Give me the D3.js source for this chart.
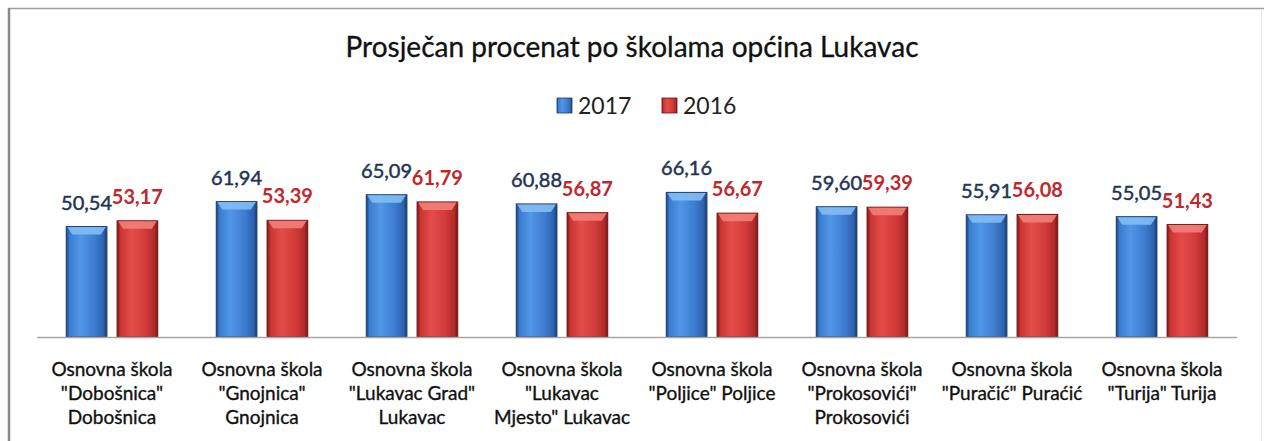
<!DOCTYPE html>
<html>
<head>
<meta charset="utf-8">
<script src="https://cdn.jsdelivr.net/npm/d3@7"></script>
<style>
  body { margin: 0; background: #fff; }
  svg { display: block; font-family: Lato, "Open Sans", sans-serif; }
</style>
</head>
<body>
<div id="chart"></div>
<script>
// data
const schools = [
  ['Osnovna škola', '"Dobošnica"', 'Dobošnica'],
  ['Osnovna škola', '"Gnojnica"', 'Gnojnica'],
  ['Osnovna škola', '"Lukavac Grad"', 'Lukavac'],
  ['Osnovna škola', '"Lukavac', 'Mjesto" Lukavac'],
  ['Osnovna škola', '"Poljice" Poljice'],
  ['Osnovna škola', '"Prokosovići"', 'Prokosovići'],
  ['Osnovna škola', '"Puračić" Puraćić'],
  ['Osnovna škola', '"Turija" Turija']
]
const years = ['2017', '2016']
const values2017 = [50.54, 61.94, 65.09, 60.88, 66.16, 59.60, 55.91, 55.05]
const values2016 = [53.17, 53.39, 61.79, 56.87, 56.67, 59.39, 56.08, 51.43]

const W = 1264, H = 441
const base = 337

const svg = d3.select('#chart').append('svg')
  .attr('width', W)
  .attr('height', H)

// gradients for the bevelled bars
const defs = svg.append('defs')
function bevel(id, stops) {
  let g = defs.append('linearGradient').attr('id', id)
    .attr('x1', 0).attr('x2', 1).attr('y1', 0).attr('y2', 0)
  stops.forEach(s => g.append('stop').attr('offset', s[0]).attr('stop-color', s[1]))
}
bevel('g2017', [[0, '#1b3f78'], [0.08, '#3a7dd0'], [0.35, '#5296e6'], [0.7, '#3d7ccf'], [0.92, '#2d61ad'], [1, '#183a70']])
bevel('g2016', [[0, '#7a1616'], [0.08, '#c93533'], [0.35, '#e34c49'], [0.7, '#d23b39'], [0.92, '#b02a29'], [1, '#741515']])
const topColor = { '2017': '#82bcf4', '2016': '#f28078' }
const edgeColor = { '2017': '#1c3d6e', '2016': '#6e1616' }
const labelColor = { '2017': '#1f3556', '2016': '#c0282e' }

// frame
svg.append('line').attr('x1', 8).attr('x2', W).attr('y1', 8.5).attr('y2', 8.5)
  .attr('stroke', '#a0a0a0').attr('stroke-width', 1.5)
svg.append('line').attr('x1', 9).attr('x2', 9).attr('y1', 8).attr('y2', H)
  .attr('stroke', '#8a8a8a').attr('stroke-width', 2.5)
svg.append('line').attr('x1', 1261.5).attr('x2', 1261.5).attr('y1', 10).attr('y2', H)
  .attr('stroke', '#e8e8e8').attr('stroke-width', 1)

// title
svg.append('text')
  .attr('x', 632).attr('y', 57)
  .attr('text-anchor', 'middle')
  .attr('font-size', 28)
  .attr('fill', '#111')
  .attr('stroke', '#111').attr('stroke-width', 0.3)
  .text('Prosječan procenat po školama općina Lukavac')

// legend
const legend = svg.append('g').attr('transform', 'translate(557,98)')
years.forEach((yr, i) => {
  let g = legend.append('g').attr('transform', `translate(${i * 105},0)`)
  g.append('rect').attr('width', 15).attr('height', 15)
    .attr('fill', `url(#g${yr})`).attr('stroke', edgeColor[yr]).attr('stroke-width', 0.8)
  g.append('text').attr('x', 21).attr('y', 16)
    .attr('font-size', 23).attr('fill', '#222').text(yr)
})

// scales
const x0 = d3.scaleBand().domain(d3.range(schools.length)).range([37, 1237])
const x1 = d3.scaleBand().domain(years).range([0, 91.5]).paddingInner(0.2)
const y = d3.scaleLinear().domain([0, 70]).range([base, 184])

const rows = schools.map((s, i) => ({ i, vals: [
  { yr: '2017', v: values2017[i] },
  { yr: '2016', v: values2016[i] }
]}))

const groups = svg.selectAll('.grp').data(rows).enter().append('g')
  .attr('class', 'grp')
  .attr('transform', d => `translate(${x0(d.i) + (x0.bandwidth() - 91.5) / 2},0)`)

const bars = groups.selectAll('.bar').data(d => d.vals).enter().append('g')
  .attr('class', 'bar')

bars.append('rect')
  .attr('x', d => x1(d.yr))
  .attr('y', d => y(d.v))
  .attr('width', x1.bandwidth())
  .attr('height', d => base - y(d.v))
  .attr('fill', d => `url(#g${d.yr})`)
  .attr('stroke', d => edgeColor[d.yr])
  .attr('stroke-width', 1)

// top bevel
bars.append('path')
  .attr('d', d => {
    let l = x1(d.yr), r = l + x1.bandwidth(), t = y(d.v)
    return `M${l + 1},${t + 0.5} L${r - 1},${t + 0.5} L${r - 6},${t + 8} L${l + 6},${t + 8} Z`
  })
  .attr('fill', d => topColor[d.yr])
  .attr('opacity', 0.9)

// value labels
bars.append('text')
  .attr('x', d => x1(d.yr) + x1.bandwidth() / 2)
  .attr('y', d => y(d.v) - 17)
  .attr('text-anchor', 'middle')
  .attr('font-size', 20)
  .attr('font-weight', d => d.yr == '2016' ? 'bold' : 'normal')
  .attr('fill', d => labelColor[d.yr])
  .attr('stroke', d => d.yr == '2017' ? labelColor[d.yr] : 'none')
  .attr('stroke-width', 0.5)
  .text(d => d3.format('.2f')(d.v).replace('.', ','))

// axis line
svg.append('line')
  .attr('x1', x0.range()[0]).attr('x2', x0.range()[1])
  .attr('y1', base + 0.5).attr('y2', base + 0.5)
  .attr('stroke', '#a6a6a6').attr('stroke-width', 1.5)

// category labels
const cats = svg.selectAll('.cat').data(schools).enter().append('text')
  .attr('class', 'cat')
  .attr('text-anchor', 'middle')
  .attr('font-size', 19)
  .attr('fill', '#111')
  .attr('stroke', '#111').attr('stroke-width', 0.35)
cats.selectAll('tspan').data((d, i) => d.map(t => ({ t, i }))).enter().append('tspan')
  .attr('x', d => x0(d.i) + x0.bandwidth() / 2)
  .attr('y', (d, j) => 376 + j * 24)
  .text(d => d.t)
</script>
</body>
</html>
